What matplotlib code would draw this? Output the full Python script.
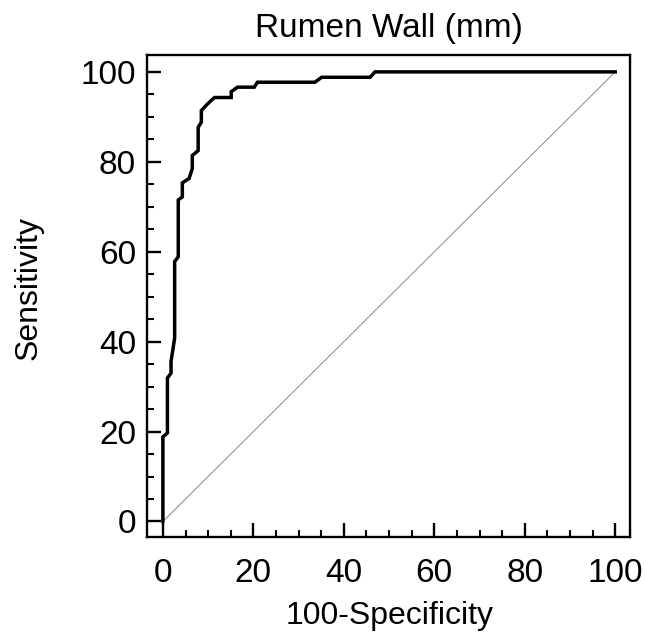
import matplotlib
matplotlib.use('Agg')
import matplotlib.pyplot as plt
from matplotlib.ticker import MultipleLocator

plt.rcParams['font.family'] = ['Liberation Sans', 'DejaVu Sans']

# ROC points (100-Specificity, Sensitivity)
fpr = [0, 0, 1.0, 1.0, 1.8, 1.8, 2.6, 2.6, 3.4, 3.4, 4.3, 4.3, 5.8, 6.5, 6.5,
       7.8, 7.8, 8.5, 8.5, 9.9, 11.4, 15.1, 15.1, 16.5, 20.2, 20.9, 33.6,
       35.1, 45.8, 46.9, 100]
tpr = [0, 18.8, 19.7, 31.9, 33.0, 35.6, 40.8, 57.8, 58.9, 71.5, 72.2, 75.3,
       76.3, 78.5, 81.4, 82.5, 87.7, 88.8, 91.4, 92.9, 94.3, 94.3, 95.6, 96.6,
       96.6, 97.7, 97.7, 98.8, 98.8, 100, 100]
ref_line = [0, 100]

title = 'Rumen Wall (mm)'
xlabel = '100-Specificity'
ylabel = 'Sensitivity'
ticks = [0, 20, 40, 60, 80, 100]

fig = plt.figure(figsize=(6.45, 6.35), dpi=100)
ax = fig.add_axes([0.228, 0.154, 0.749, 0.759])

ax.plot(ref_line, ref_line, color='#888888', lw=0.7, zorder=1)
ax.plot(fpr, tpr, color='black', lw=2.5, zorder=2, solid_joinstyle='miter')

ax.set_xlim(-3.5, 103.3)
ax.set_ylim(-3.5, 103.7)
ax.set_xticks(ticks)
ax.set_yticks(ticks)
ax.xaxis.set_minor_locator(MultipleLocator(5))
ax.yaxis.set_minor_locator(MultipleLocator(5))

for s in ax.spines.values():
    s.set_linewidth(1.7)
ax.tick_params(which='major', direction='in', length=10, width=1.7, labelsize=24)
ax.tick_params(which='minor', direction='in', length=5, width=1.5)
ax.tick_params(axis='x', which='major', pad=15)
ax.tick_params(axis='y', which='major', pad=8)

ax.set_title(title, fontsize=24, pad=13)
ax.set_xlabel(xlabel, fontsize=23)
ax.set_ylabel(ylabel, fontsize=23)
ax.xaxis.set_label_coords(0.503, -0.133)
ax.yaxis.set_label_coords(-0.215, 0.517)

fig.savefig('out.png', dpi=100)
